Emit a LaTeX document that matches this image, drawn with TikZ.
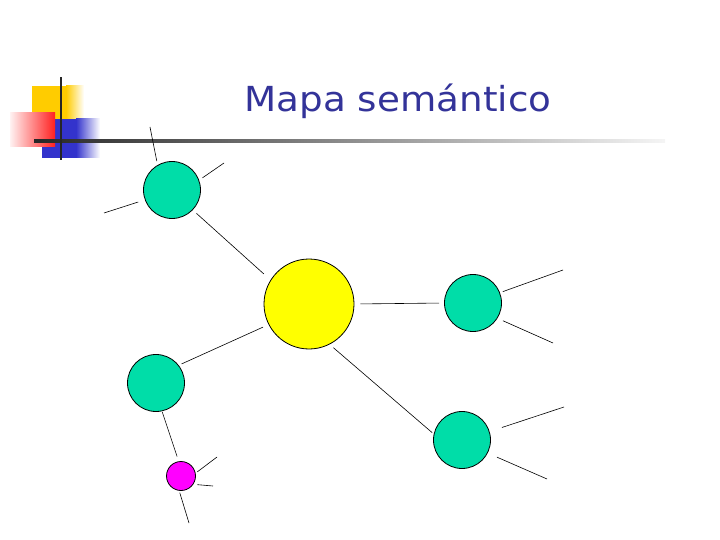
\documentclass[tikz,border=0pt]{standalone}
\usepackage{fontspec}
\newfontfamily\titlefont{DejaVu Sans}
\usepackage{tikz}
\definecolor{mapgreen}{HTML}{00DDA8}
\definecolor{mapyellow}{HTML}{FFFF00}
\definecolor{mapmagenta}{HTML}{FF00FF}
\definecolor{titleblue}{HTML}{333399}
\definecolor{logoyellow}{HTML}{FFCC00}
\definecolor{logoblue}{HTML}{3333CC}
\definecolor{logored}{HTML}{FF2020}

\begin{document}
\begin{tikzpicture}[x=1pt, y=-1pt,
  concept/.style={circle, draw=black, line width=0.8pt, inner sep=0pt},
  link/.style={line width=0.6pt}]
  \useasboundingbox (0,0) rectangle (720,540);

  % slide logo and rule
  \fill[logoyellow] (32,86) rectangle (66,125);
  \shade[left color=logoyellow, right color=white] (66,86) rectangle (84,125);
  \fill[logoblue] (42,119) rectangle (76,158);
  \shade[left color=logoblue, right color=white] (76,119) rectangle (100,158);
  \shade[left color=logored!6, right color=logored] (10,113) rectangle (55,147);
  \shade[left color=black!85, middle color=black!25, right color=black!4] (34,139.6) rectangle (665,142.4);
  \fill[black!85] (59.6,77) rectangle (62.4,160);

  \node[font=\titlefont\fontsize{34.5}{40}\selectfont, text=titleblue, xscale=1.08, anchor=base] (title) at (398,112) {Mapa semántico};

  % concepts
  \node[concept, fill=mapyellow, minimum size=90pt] (hub) at (309,304) {};
  \node[concept, fill=mapgreen, minimum size=57pt] (tl) at (172,190) {};
  \node[concept, fill=mapgreen, minimum size=57pt] (r) at (473,303) {};
  \node[concept, fill=mapgreen, minimum size=57pt] (br) at (462,440) {};
  \node[concept, fill=mapgreen, minimum size=57pt] (bl) at (156,383) {};
  \node[concept, fill=mapmagenta, minimum size=29pt] (mg) at (181,476) {};

  % free ends
  \coordinate (tlA) at (150,127);
  \coordinate (tlB) at (224,163);
  \coordinate (tlC) at (104,213);
  \coordinate (rA) at (563,270);
  \coordinate (rB) at (553,343);
  \coordinate (brA) at (564,407);
  \coordinate (brB) at (547,479);
  \coordinate (mgA) at (217,457);
  \coordinate (mgB) at (213,486);
  \coordinate (mgC) at (189,523);

  \draw[link, shorten <=5pt, shorten >=9pt] (tl.316) -- (hub.148);
  \draw[link, shorten <=6pt, shorten >=5pt] (hub.0) -- (r.180);
  \draw[link, shorten <=5pt, shorten >=2pt] (hub.-63) -- (br.168);
  \draw[link, shorten <=6pt, shorten >=3pt] (hub.207) -- (bl.38);
  \draw[link, shorten <=1pt, shorten >=5pt] (bl.-78) -- (mg.99);

  \draw[link, shorten <=4pt] (tl.120) -- (tlA);
  \draw[link, shorten <=4pt] (tl.20) -- (tlB);
  \draw[link, shorten <=7pt] (tl.200) -- (tlC);
  \draw[link, shorten <=3pt] (r.21) -- (rA);
  \draw[link, shorten <=6pt] (r.-32) -- (rB);
  \draw[link, shorten <=13pt] (br.17) -- (brA);
  \draw[link, shorten <=10pt] (br.-27) -- (brB);
  \draw[link, shorten <=2pt] (mg.11) -- (mgA);
  \draw[link, shorten <=4pt] (mg.-34) -- (mgB);
  \draw[link, shorten <=2pt] (mg.-97) -- (mgC);
\end{tikzpicture}
\end{document}
